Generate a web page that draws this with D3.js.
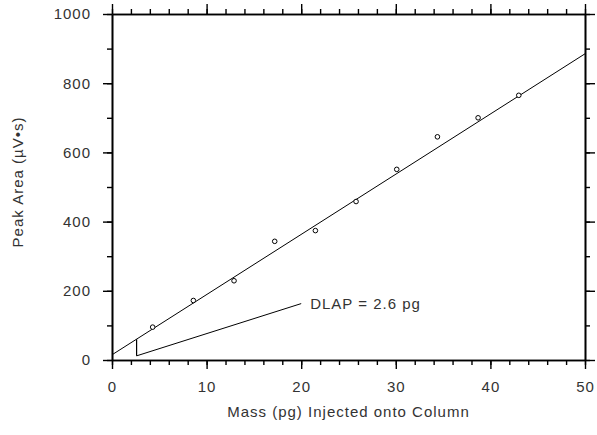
<!DOCTYPE html>
<html>
<head>
<meta charset="utf-8">
<script src="https://cdn.jsdelivr.net/npm/d3@7"></script>
<style>
  body { margin: 0; background: #fff; }
  text { font-family: Arial, "Liberation Sans", sans-serif; fill: #333; letter-spacing: 1px; }
</style>
</head>
<body>
<svg width="597" height="435"></svg>
<script>
// data
const mass = [4.3, 8.6, 12.9, 17.2, 21.5, 25.8, 30.1, 34.4, 38.7, 43.0];
const area = [95, 172, 229, 343, 374, 458, 551, 645, 700, 765];
const fitLine = [[0, 15], [50, 885]];
const dlap = 2.6;
const dlapVert = [[2.6, 12], [2.6, 60]];
const dlapPointer = [[2.6, 12], [20, 163]];
const xTicks = [0, 10, 20, 30, 40, 50];
const yTicks = [0, 200, 400, 600, 800, 1000];

const svg = d3.select('svg');
const margin = { top: 14, right: 12, bottom: 75, left: 112 };
const width = 597 - margin.left - margin.right;
const height = 435 - margin.top - margin.bottom;

const g = svg.append('g').attr('transform', `translate(${margin.left},${margin.top})`);

const x = d3.scaleLinear().domain([0, 50]).range([0, width]);
const y = d3.scaleLinear().domain([0, 1000]).range([height, 0]);

// minor ticks first, then major with labels
const xMinor = d3.range(0, 51, 2);
const yMinor = d3.range(0, 1001, 100);

g.append('g').attr('transform', `translate(0,${height})`)
  .call(d3.axisBottom(x).tickValues(xMinor).tickSize(5).tickSizeOuter(0).tickFormat(''));
g.append('g').attr('transform', `translate(0,${height})`)
  .call(d3.axisBottom(x).tickValues(xTicks).tickSize(9).tickSizeOuter(0).tickPadding(12).tickFormat(d3.format('d')));

g.append('g').call(d3.axisTop(x).tickValues(xMinor).tickSize(5).tickSizeOuter(0).tickFormat(''));
g.append('g').call(d3.axisTop(x).tickValues(xTicks).tickSize(10).tickSizeOuter(0).tickFormat(''));

g.append('g').call(d3.axisLeft(y).tickValues(yMinor).tickSize(5).tickSizeOuter(0).tickFormat(''));
g.append('g').call(d3.axisLeft(y).tickValues(yTicks).tickSize(9).tickSizeOuter(0).tickPadding(12).tickFormat(d3.format('d')));

g.append('g').attr('transform', `translate(${width},0)`)
  .call(d3.axisRight(y).tickValues(yMinor).tickSize(5).tickSizeOuter(0).tickFormat(''));
g.append('g').attr('transform', `translate(${width},0)`)
  .call(d3.axisRight(y).tickValues(yTicks).tickSize(10).tickSizeOuter(0).tickFormat(''));

g.selectAll('.domain').attr('stroke', '#000').attr('stroke-width', 1.6);
g.selectAll('.tick line').attr('stroke', '#000').attr('stroke-width', 1.4);
g.selectAll('.tick text').style('font-size', '15px').attr('fill', '#333');

const line = d3.line().x(d => x(d[0])).y(d => y(d[1]));

g.append('path').datum(fitLine).attr('d', line)
  .attr('fill', 'none').attr('stroke', '#000').attr('stroke-width', 1);
g.append('path').datum(dlapVert).attr('d', line)
  .attr('fill', 'none').attr('stroke', '#000').attr('stroke-width', 1.2);
g.append('path').datum(dlapPointer).attr('d', line)
  .attr('fill', 'none').attr('stroke', '#000').attr('stroke-width', 1);

g.selectAll('circle.pt').data(mass).enter().append('circle')
  .attr('class', 'pt')
  .attr('cx', d => x(d))
  .attr('cy', (d, i) => y(area[i]))
  .attr('r', 2.3)
  .attr('fill', '#fff').attr('stroke', '#000').attr('stroke-width', 1);

g.append('text')
  .attr('x', x(20) + 9).attr('y', y(163) + 5)
  .style('font-size', '15px')
  .text(`DLAP = ${dlap} pg`);

svg.append('text')
  .attr('x', margin.left + width / 2).attr('y', 417)
  .attr('text-anchor', 'middle')
  .style('font-size', '15px')
  .text('Mass (pg) Injected onto Column');

svg.append('text')
  .attr('transform', 'translate(23,182) rotate(-90)')
  .attr('text-anchor', 'middle')
  .style('font-size', '15px')
  .text('Peak Area (µV•s)');
</script>
</body>
</html>
